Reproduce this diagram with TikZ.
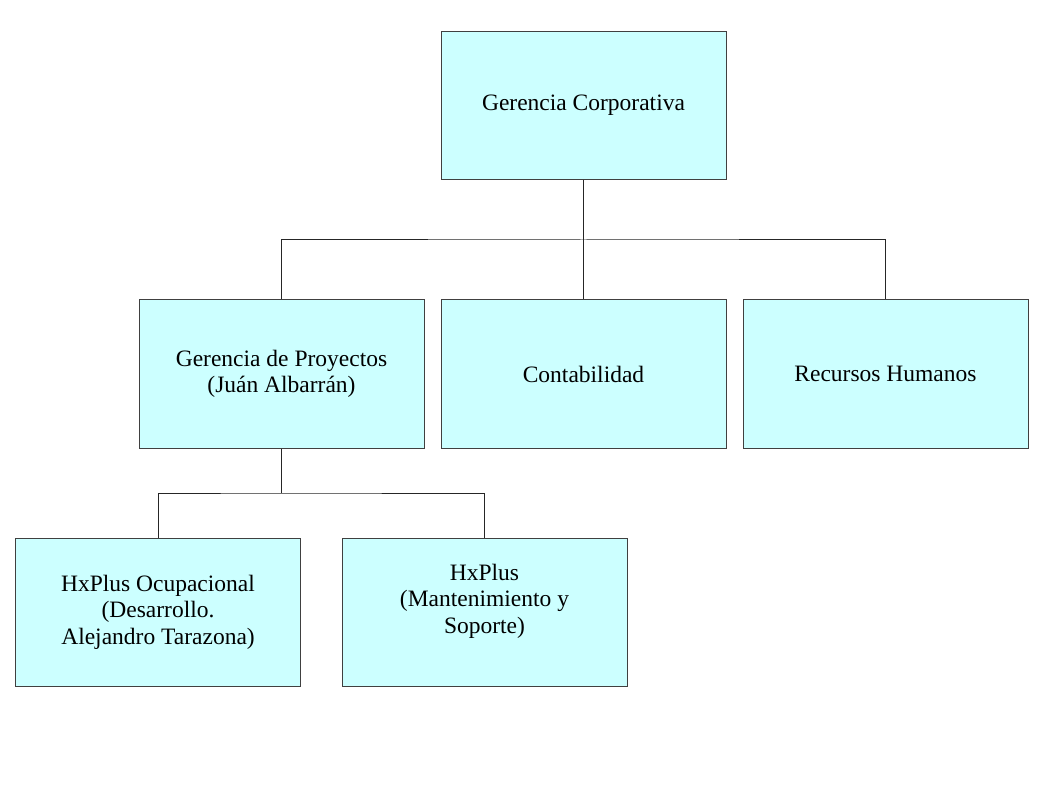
\documentclass[tikz,border=0pt]{standalone}
\usepackage{fontspec}
\setmainfont{Liberation Serif}
\definecolor{boxfill}{HTML}{CCFFFF}
\definecolor{linegray}{HTML}{404040}
\begin{document}
\begin{tikzpicture}[x=1pt,y=-1pt,
  orgbox/.style={draw=linegray, fill=boxfill, line width=1pt, minimum width=285pt, minimum height=148pt,
    inner sep=0pt, align=center, font=\fontsize{23.5}{26.5}\selectfont},
  conn/.style={draw=black!85, line width=1pt}]
\useasboundingbox (0,0) rectangle (1058,794);
\node[orgbox] (gc) at (583.5,105.5) {Gerencia Corporativa};
\node[orgbox] (gp) at (281.5,374) {Gerencia de Proyectos\\(Juán Albarrán)};
\node[orgbox] (co) at (583.5,374) {Contabilidad};
\node[orgbox] (rh) at (885.5,374) {Recursos Humanos};
\node[orgbox] (ho) at (158,612) {HxPlus Ocupacional\\(Desarrollo.\\ Alejandro Tarazona)};
\node[orgbox] (hm) at (484.5,612) {HxPlus\\(Mantenimiento y\\Soporte)\\[0pt]};
\coordinate (b1) at (583.5,240);
\coordinate (b2) at (281.5,493);
\draw[conn] (gc.south) -- (b1);
\draw[conn] (gp.north) |- (b1) -| (rh.north);
\draw[conn] (b1) -- (co.north);
\draw[conn] (gp.south) -- (b2);
\draw[conn] (ho.north) |- (b2) -| (hm.north);
\end{tikzpicture}
\end{document}
